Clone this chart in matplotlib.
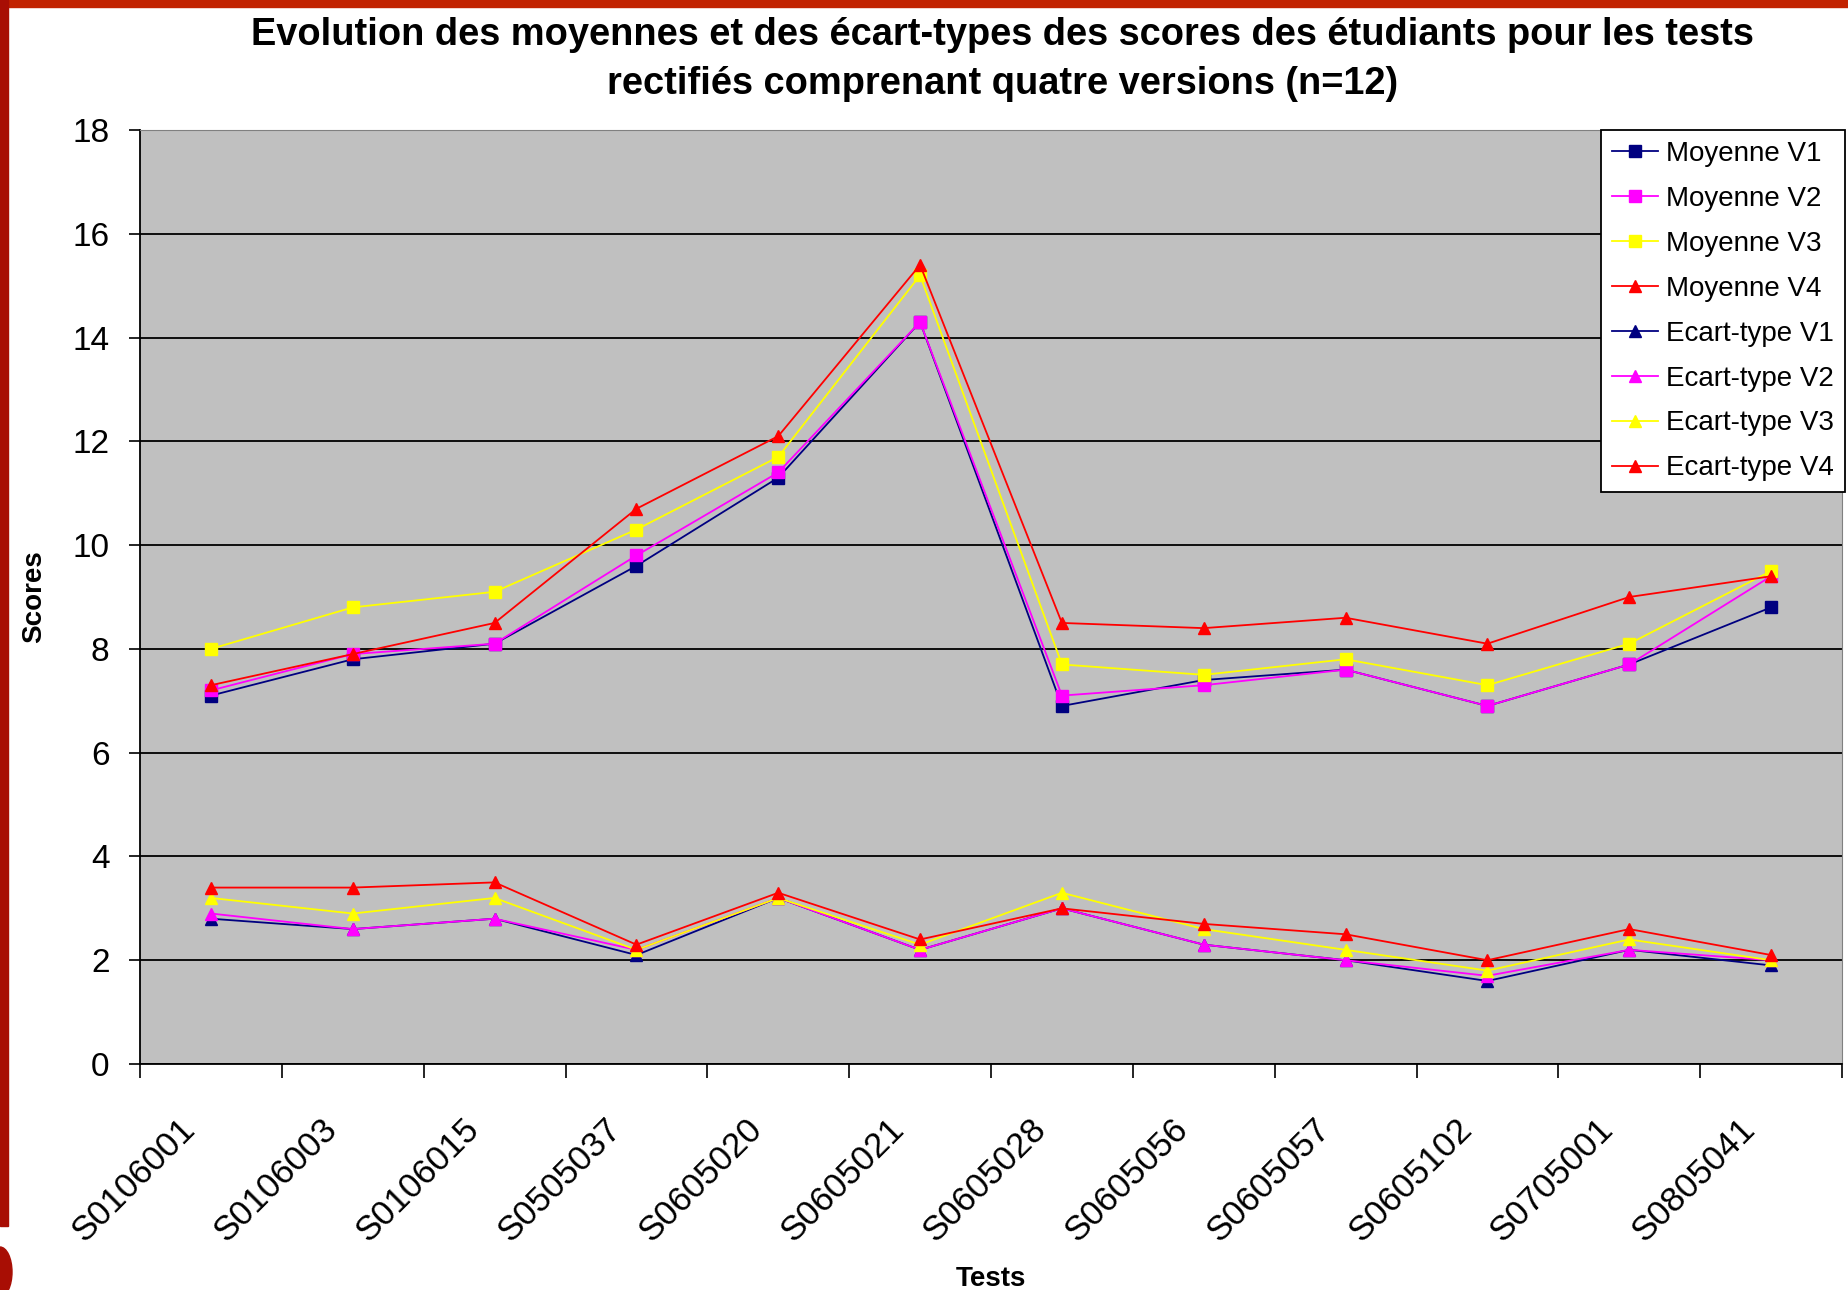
import matplotlib.pyplot as plt
from matplotlib.patches import Rectangle, Ellipse
from matplotlib.transforms import ScaledTranslation

plt.rcParams['font.family'] = ['Liberation Sans', 'DejaVu Sans']

# 1. Données
tests = ['S0106001', 'S0106003', 'S0106015', 'S0505037', 'S0605020', 'S0605021',
         'S0605028', 'S0605056', 'S0605057', 'S0605102', 'S0705001', 'S0805041']

moy_v1 = [7.1, 7.8, 8.1, 9.6, 11.3, 14.3, 6.9, 7.4, 7.6, 6.9, 7.7, 8.8]
moy_v2 = [7.2, 7.9, 8.1, 9.8, 11.4, 14.3, 7.1, 7.3, 7.6, 6.9, 7.7, 9.4]
moy_v3 = [8.0, 8.8, 9.1, 10.3, 11.7, 15.2, 7.7, 7.5, 7.8, 7.3, 8.1, 9.5]
moy_v4 = [7.3, 7.9, 8.5, 10.7, 12.1, 15.4, 8.5, 8.4, 8.6, 8.1, 9.0, 9.4]

ect_v1 = [2.8, 2.6, 2.8, 2.1, 3.2, 2.2, 3.0, 2.3, 2.0, 1.6, 2.2, 1.9]
ect_v2 = [2.9, 2.6, 2.8, 2.2, 3.2, 2.2, 3.0, 2.3, 2.0, 1.7, 2.2, 2.0]
ect_v3 = [3.2, 2.9, 3.2, 2.2, 3.2, 2.3, 3.3, 2.6, 2.2, 1.8, 2.4, 2.0]
ect_v4 = [3.4, 3.4, 3.5, 2.3, 3.3, 2.4, 3.0, 2.7, 2.5, 2.0, 2.6, 2.1]

# 2. Couleurs et marqueurs (style Excel)
series = [
    ('Moyenne V1', moy_v1, '#000080', 's'),
    ('Moyenne V2', moy_v2, '#FF00FF', 's'),
    ('Moyenne V3', moy_v3, '#FFFF00', 's'),
    ('Moyenne V4', moy_v4, '#FF0000', '^'),
    ('Ecart-type V1', ect_v1, '#000080', '^'),
    ('Ecart-type V2', ect_v2, '#FF00FF', '^'),
    ('Ecart-type V3', ect_v3, '#FFFF00', '^'),
    ('Ecart-type V4', ect_v4, '#FF0000', '^'),
]

fig = plt.figure(figsize=(18.48, 12.9), dpi=100)
ax = fig.add_axes([140 / 1848, 226 / 1290, 1702 / 1848, 934 / 1290])
ax.set_facecolor('#C0C0C0')

x = list(range(len(tests)))
for nom, valeurs, couleur, marqueur in series:
    ax.plot(x, valeurs, color=couleur, marker=marqueur, lw=1.3,
            markersize=9 if marqueur == '^' else 8, label=nom)

# 3. Axes
ax.set_xlim(-0.5, len(tests) - 0.5)
ax.set_ylim(0, 18)
ax.set_yticks(range(0, 19, 2))
ax.yaxis.grid(True, color='black', lw=1.3)
ax.set_axisbelow(True)
ax.tick_params(axis='y', labelsize=24, length=8, width=1.2, pad=14)

ax.set_xticks(x)
ax.set_xticklabels(tests, rotation=45, ha='right', va='center',
                   rotation_mode='anchor', fontsize=25)
ax.set_xticks([i - 0.5 for i in range(len(tests) + 1)], minor=True)
ax.tick_params(axis='x', which='major', length=0, pad=43)
ax.tick_params(axis='x', which='minor', length=10, width=1.2)
decalage = ScaledTranslation(-0.21, 0, fig.dpi_scale_trans)
for lbl in ax.get_xticklabels():
    lbl.set_transform(lbl.get_transform() + decalage)

for cote in ['top', 'right']:
    ax.spines[cote].set_color('#808080')
for cote in ['left', 'bottom']:
    ax.spines[cote].set_linewidth(1.3)

ax.set_ylabel('Scores', fontsize=20, fontweight='bold', labelpad=18)
ax.set_xlabel('Tests', fontsize=20, fontweight='bold', labelpad=13)
ax.set_title("Evolution des moyennes et des écart-types des scores des étudiants pour les tests\n"
             "rectifiés comprenant quatre versions (n=12)",
             fontsize=27.4, fontweight='bold', linespacing=1.47, pad=26, x=0.507)

leg = ax.legend(loc='upper right', bbox_to_anchor=(1.002, 1.0), borderaxespad=0,
                fontsize=20, fancybox=False, framealpha=1, edgecolor='black',
                handlelength=1.65, handletextpad=0.3, labelspacing=0.68, borderpad=0.4)
leg.get_frame().set_linewidth(1.3)

# 4. Cadre rouge de la diapositive
fig.patches.append(Rectangle((0, 1 - 7 / 1290), 1, 7 / 1290, transform=fig.transFigure,
                             color='#C22200', zorder=0))
fig.patches.append(Rectangle((0, 64 / 1290), 8 / 1848, 1, transform=fig.transFigure,
                             color='#A80E04', zorder=0))
fig.patches.append(Ellipse((0, 18 / 1290), 24 / 1848, 50 / 1290, transform=fig.transFigure,
                           color='#A80E04', zorder=0))

fig.savefig('out.png', dpi=100)
